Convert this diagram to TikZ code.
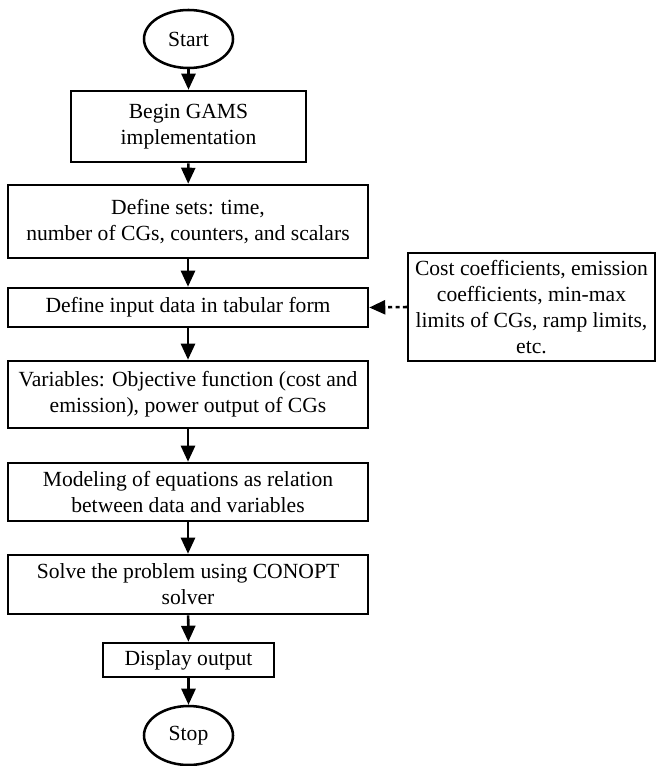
\documentclass[tikz,border=0pt]{standalone}
\usepackage{fontspec}
\setmainfont{Liberation Serif}
\usetikzlibrary{shapes.geometric,arrows.meta}
\tikzset{
  base/.style={draw=black, line width=1.9pt, inner sep=0pt, align=center,
    font=\fontsize{16.2pt}{19.5pt}\selectfont},
  term/.style={base, ellipse},
  proc/.style={base, rectangle},
  flow/.style={line width=1.9pt, -{Triangle[length=12pt,width=10.5pt]}},
  dflow/.style={line width=1.9pt, dash pattern=on 3pt off 2.5pt, -{Triangle[length=12pt,width=10.5pt]}}
}
\begin{document}
\begin{tikzpicture}[x=0.75pt,y=-0.75pt]
\useasboundingbox (0,0) rectangle (657,766);
\node[term, minimum width=66.75pt, minimum height=43.5pt] (start) at (188.5,39) {Start};
\node[proc, minimum width=176.25pt, minimum height=53.25pt] (b1) at (188.5,126.5) {Begin GAMS\\implementation};
\node[proc, minimum width=270pt, minimum height=54.75pt] (b2) at (188,221.5) {Define sets: time,\\number of CGs, counters, and scalars};
\node[proc, minimum width=270pt, minimum height=29.25pt] (b3) at (188,307.5) {Define input data in tabular form};
\node[proc, minimum width=270pt, minimum height=50.25pt] (b4) at (188,394.5) {Variables: Objective function (cost and\\emission), power output of CGs};
\node[proc, minimum width=270pt, minimum height=43.5pt] (b5) at (188,492) {Modeling of equations as relation\\between data and variables};
\node[proc, minimum width=270pt, minimum height=44.25pt] (b6) at (188,584.5) {Solve the problem using CONOPT\\solver};
\node[proc, minimum width=128.25pt, minimum height=25.5pt] (b7) at (188.5,660) {Display output};
\node[term, minimum width=66.75pt, minimum height=44.25pt] (stop) at (188.5,735.5) {Stop};
\node[proc, minimum width=185pt, minimum height=81pt] (data) at (531.5,307) {Cost coefficients, emission\\coefficients, min-max\\limits of CGs, ramp limits,\\etc.};
\draw[flow] (start) -- (b1);
\draw[flow] (b1) -- (b2);
\draw[flow] (b2) -- (b3);
\draw[flow] (b3) -- (b4);
\draw[flow] (b4) -- (b5);
\draw[flow] (b5) -- (b6);
\draw[flow] (b6) -- (b7);
\draw[flow] (b7) -- (stop);
\draw[dflow] (data.west) -- (b3.east);
\end{tikzpicture}
\end{document}
